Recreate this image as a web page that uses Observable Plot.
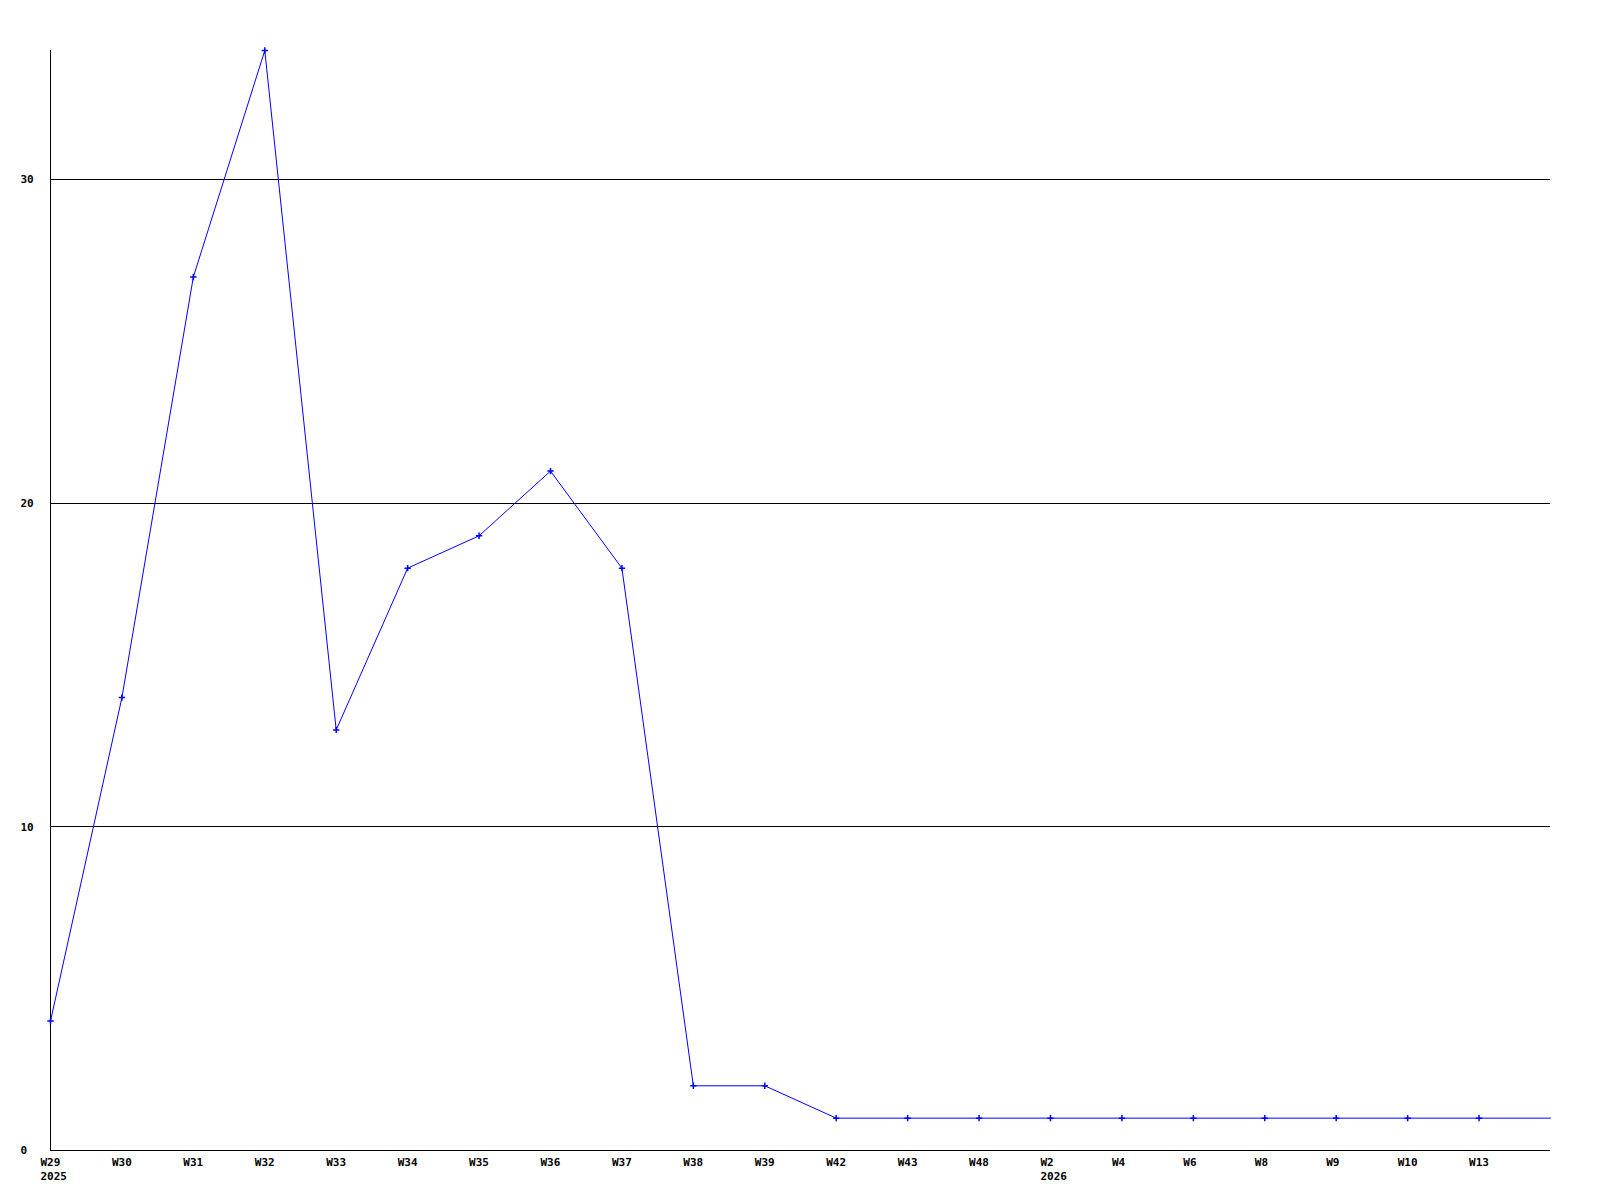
<!DOCTYPE html>
<html>
<head>
<meta charset="utf-8">
<script src="https://cdn.jsdelivr.net/npm/d3@7"></script>
<script src="https://cdn.jsdelivr.net/npm/@observablehq/plot@0.6"></script>
<style>
  html, body { margin: 0; padding: 0; background: #fff; }
  #chart svg { display: block; }
</style>
</head>
<body>
<div id="chart"></div>
<script>
// Week categories (last one is the current, unlabeled week at the right edge)
const weeks = ["W29","W30","W31","W32","W33","W34","W35","W36","W37","W38","W39","W42","W43","W48","W2","W4","W6","W8","W9","W10","W13","W14"];
const counts = [4, 14, 27, 34, 13, 18, 19, 21, 18, 2, 2, 1, 1, 1, 1, 1, 1, 1, 1, 1, 1, 1];
const showLabel = [true,true,true,true,true,true,true,true,true,true,true,true,true,true,true,true,true,true,true,true,true,false];
const yearLabels = {"W29": "2025", "W2": "2026"};
const yTicks = [0, 10, 20, 30];
const gridValues = [10, 20, 30];

const data = weeks.map((w, i) => ({week: w, count: counts[i], marker: showLabel[i]}));
const labelOf = new Map(weeks.map((w, i) => [w, showLabel[i] ? (yearLabels[w] ? w + "\n" + yearLabels[w] : w) : ""]));

const font = "'DejaVu Sans Mono', monospace";

const chart = Plot.plot({
  width: 1600,
  height: 1200,
  marginTop: 50,
  marginBottom: 50,
  marginLeft: 50,
  marginRight: 50,
  style: {fontFamily: font, fontSize: "11px", fontWeight: "bold", color: "#000", background: "#fff"},
  x: {type: "point", domain: weeks, padding: 0, round: false},
  y: {domain: [0, 34]},
  marks: [
    Plot.ruleY(gridValues, {stroke: "#000", strokeWidth: 1, shapeRendering: "crispEdges"}),
    Plot.ruleY([0], {stroke: "#000", strokeWidth: 1, shapeRendering: "crispEdges"}),
    Plot.ruleX([weeks[0]], {stroke: "#000", strokeWidth: 1, shapeRendering: "crispEdges"}),
    Plot.axisX({
      ticks: weeks.filter((w, i) => showLabel[i]),
      tickSize: 0,
      tickPadding: 0,
      textAnchor: "start",
      lineAnchor: "top",
      dx: -10,
      dy: 5,
      lineHeight: 1.3,
      tickFormat: d => labelOf.get(d),
      label: null,
      fill: "#000"
    }),
    Plot.axisY({
      ticks: yTicks,
      tickSize: 0,
      tickPadding: 0,
      textAnchor: "start",
      dx: -30,
      tickFormat: d => String(d),
      label: null,
      fill: "#000"
    }),
    Plot.line(data, {x: "week", y: "count", stroke: "#0000ff", strokeWidth: 1}),
    Plot.dot(data.filter(d => d.marker), {x: "week", y: "count", symbol: "plus", r: 2.2, stroke: "#0000ff", strokeWidth: 1.5})
  ]
});

document.getElementById("chart").appendChild(chart);
</script>
</body>
</html>
